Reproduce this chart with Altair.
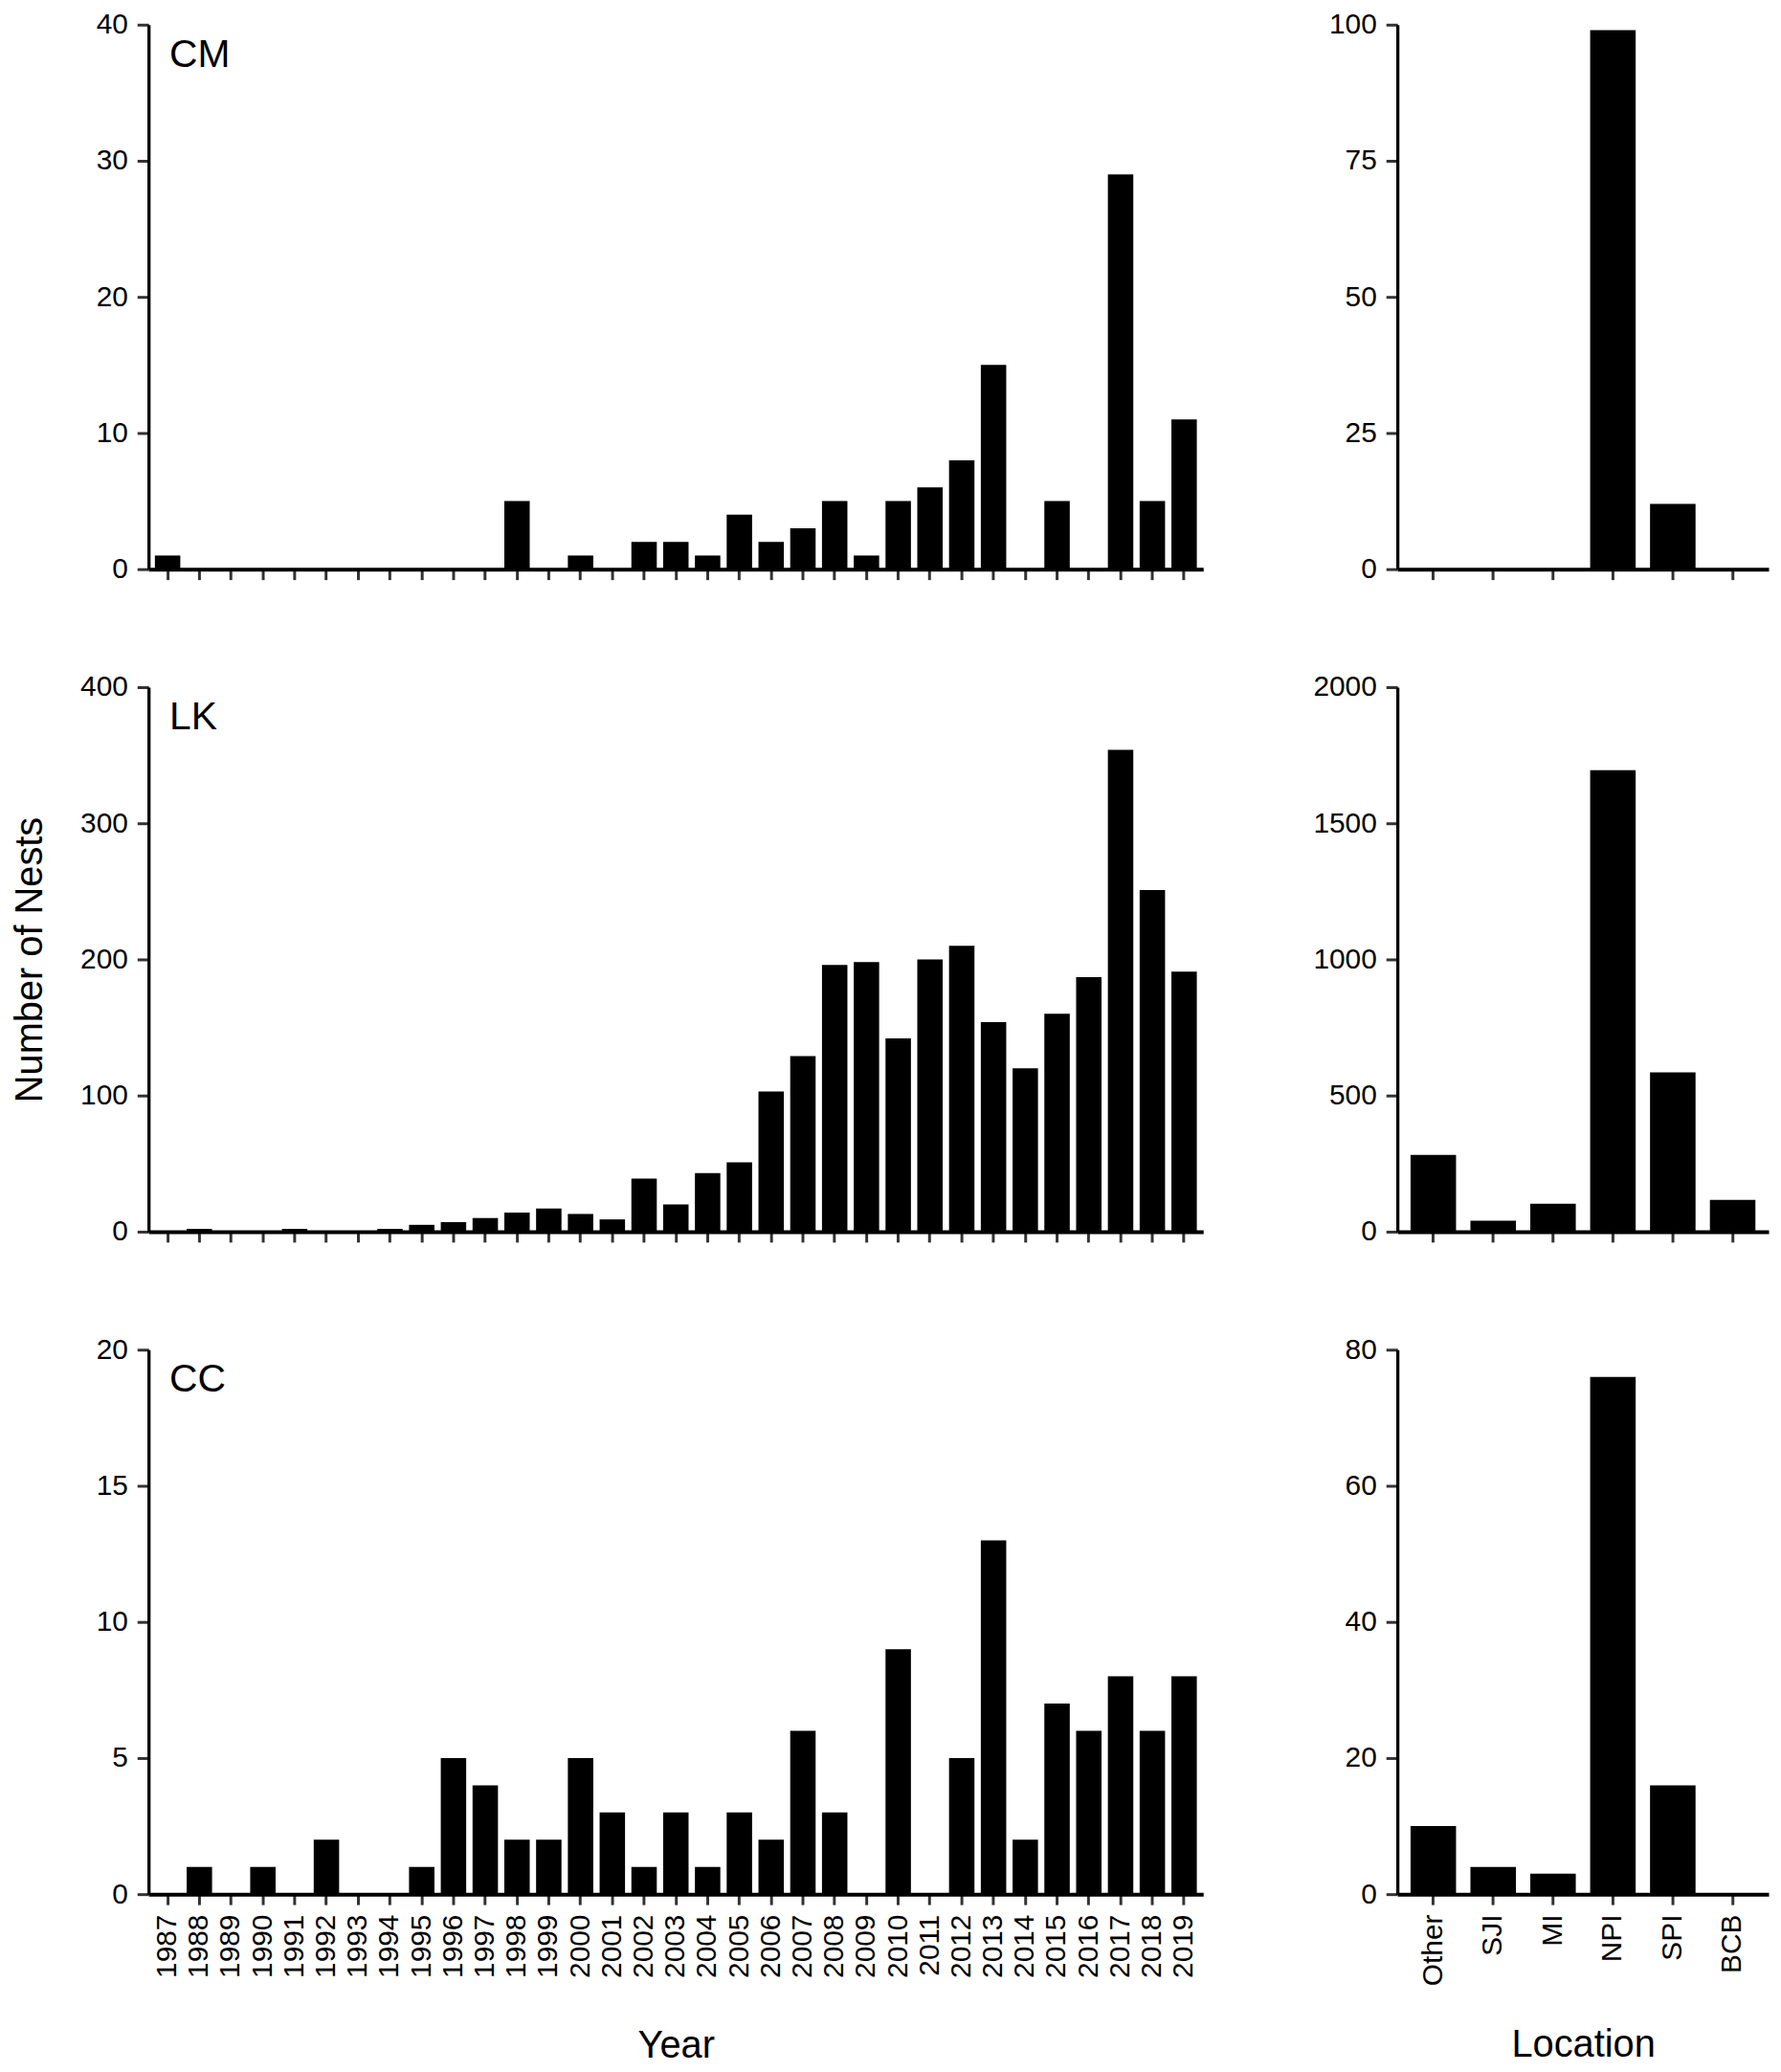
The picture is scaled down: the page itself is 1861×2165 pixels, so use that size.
import altair as alt
import pandas as pd

years = [str(y) for y in range(1987, 2020)]
locations = ["Other", "SJI", "MI", "NPI", "SPI", "BCB"]

cm_year = [1, 0, 0, 0, 0, 0, 0, 0, 0, 0, 0, 5, 0, 1, 0, 2, 2, 1, 4, 2, 3, 5, 1, 5, 6, 8, 15, 0, 5, 0, 29, 5, 11]
lk_year = [0, 2, 0, 0, 2, 0, 0, 2, 5, 7, 10, 14, 17, 13, 9, 39, 20, 43, 51, 103, 129, 196, 198, 142, 200, 210, 154, 120, 160, 187, 354, 251, 191]
cc_year = [0, 1, 0, 1, 0, 2, 0, 0, 1, 5, 4, 2, 2, 5, 3, 1, 3, 1, 3, 2, 6, 3, 0, 9, 0, 5, 13, 2, 7, 6, 8, 6, 8]

cm_loc = [0, 0, 0, 99, 12, 0]
lk_loc = [282, 40, 103, 1695, 585, 117]
cc_loc = [10, 4, 3, 76, 16, 0]

species = ["CM", "LK", "CC"]
year_max = [40, 400, 20]
year_step = [10, 100, 5]
loc_max = [100, 2000, 80]
loc_step = [25, 500, 20]

FONT = "Liberation Sans"
W_LEFT, W_RIGHT, H = 1108, 390, 572


def left_chart(vals, label, ymax, ystep, bottom, ytitle):
    df = pd.DataFrame({"Year": years, "Nests": vals})
    x_axis = alt.Axis(
        labels=bottom, labelAngle=-90, labelPadding=10,
        title="Year" if bottom else None, titlePadding=52,
    )
    y_axis = alt.Axis(
        values=list(range(0, ymax + 1, ystep)), format="d",
        title="Number of Nests" if ytitle else None, titlePadding=32,
    )
    bars = alt.Chart(df).mark_bar(color="black").encode(
        x=alt.X("Year:N", sort=years,
                scale=alt.Scale(paddingInner=0.2, paddingOuter=0.2), axis=x_axis),
        y=alt.Y("Nests:Q", scale=alt.Scale(domain=[0, ymax], nice=False), axis=y_axis),
    )
    txt = alt.Chart(pd.DataFrame({"t": [label]})).mark_text(
        align="left", baseline="alphabetic", fontSize=41, font=FONT, color="black"
    ).encode(text="t:N", x=alt.value(22), y=alt.value(44))
    return alt.layer(bars, txt).properties(width=W_LEFT, height=H)


def right_chart(vals, ymax, ystep, bottom):
    df = pd.DataFrame({"Location": locations, "Nests": vals})
    x_axis = alt.Axis(
        labels=bottom, labelAngle=-90, labelPadding=10,
        title="Location" if bottom else None, titlePadding=42,
    )
    y_axis = alt.Axis(values=list(range(0, ymax + 1, ystep)), format="d", title=None)
    return alt.Chart(df).mark_bar(color="black").encode(
        x=alt.X("Location:N", sort=locations,
                scale=alt.Scale(paddingInner=0.24, paddingOuter=0.22), axis=x_axis),
        y=alt.Y("Nests:Q", scale=alt.Scale(domain=[0, ymax], nice=False), axis=y_axis),
    ).properties(width=W_RIGHT, height=H)


year_data = [cm_year, lk_year, cc_year]
loc_data = [cm_loc, lk_loc, cc_loc]

panels = []
for i in range(3):
    bottom = i == 2
    panels.append(left_chart(year_data[i], species[i], year_max[i], year_step[i], bottom, i == 1))
    panels.append(right_chart(loc_data[i], loc_max[i], loc_step[i], bottom))

chart = alt.concat(
    *panels, columns=2, align="each", bounds="flush",
    spacing={"row": 124, "column": 204},
).properties(
    padding={"left": 3, "top": -3, "right": 5, "bottom": 5},
    background="white",
).configure_axis(
    labelFont=FONT, labelFontSize=30, labelColor="black", labelPadding=10,
    tickColor="#333333", tickWidth=3, tickSize=12,
    domainColor="black", domainWidth=3.3, grid=False,
    titleFont=FONT, titleFontSize=40, titleFontWeight="normal", titleColor="black",
).configure_axisX(
    domainWidth=4, tickSize=11,
).configure_view(stroke=None)

chart.save("out.html", embed_options={"renderer": "svg", "actions": False})
